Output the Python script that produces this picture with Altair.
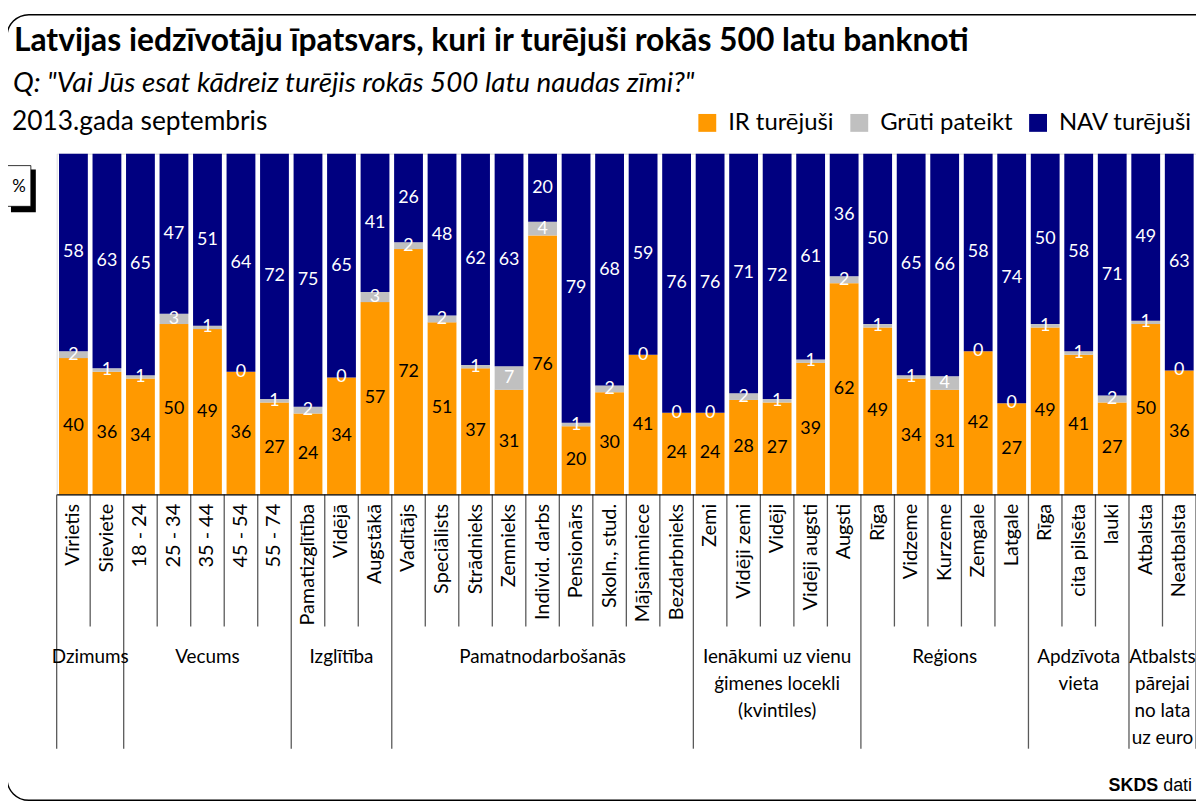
import altair as alt
import pandas as pd

# ---------------- data ----------------
categories = ["Vīrietis", "Sieviete", "18 - 24", "25 - 34", "35 - 44", "45 - 54", "55 - 74",
              "Pamatizglītība", "Vidējā", "Augstākā",
              "Vadītājs", "Speciālists", "Strādnieks", "Zemnieks", "Individ. darbs", "Pensionārs",
              "Skoln., stud.", "Mājsaimniece", "Bezdarbnieks",
              "Zemi", "Vidēji zemi", "Vidēji", "Vidēji augsti", "Augsti",
              "Rīga", "Vidzeme", "Kurzeme", "Zemgale", "Latgale",
              "Rīga", "cita pilsēta", "lauki",
              "Atbalsta", "Neatbalsta"]
ir_values = [40, 36, 34, 50, 49, 36, 27, 24, 34, 57, 72, 51, 37, 31, 76, 20, 30, 41, 24,
             24, 28, 27, 39, 62, 49, 34, 31, 42, 27, 49, 41, 27, 50, 36]
gruti_values = [2, 1, 1, 3, 1, 0, 1, 2, 0, 3, 2, 2, 1, 7, 4, 1, 2, 0, 0,
                0, 2, 1, 1, 2, 1, 1, 4, 0, 0, 1, 1, 2, 1, 0]
nav_values = [58, 63, 65, 47, 51, 64, 72, 75, 65, 41, 26, 48, 62, 63, 20, 79, 68, 59, 76,
              76, 71, 72, 61, 36, 50, 65, 66, 58, 74, 50, 58, 71, 49, 63]
group_names = ["Dzimums", "Vecums", "Izglītība", "Pamatnodarbošanās",
               "Ienākumi uz vienu\nģimenes locekli\n(kvintiles)", "Reģions",
               "Apdzīvota\nvieta", "Atbalsts\npārejai\nno lata\nuz euro"]
group_sizes = [2, 5, 3, 9, 5, 5, 3, 2]
series_names = ["IR turējuši", "Grūti pateikt", "NAV turējuši"]
series_colors = ["#FF9900", "#C0C0C0", "#000080"]
label_colors = ["black", "white", "white"]

title_text = "Latvijas iedzīvotāju īpatsvars, kuri ir turējuši rokās 500 latu banknoti"
subtitle_text = 'Q: "Vai Jūs esat kādreiz turējis rokās 500 latu naudas zīmi?"'
date_text = "2013.gada septembris"
source_bold = "SKDS"
source_text = "dati"

# ---------------- tables ----------------
keys = [f"{i:02d}|{c}" for i, c in enumerate(categories)]
rows = []
for i, k in enumerate(keys):
    for s, vals in enumerate([ir_values, gruti_values, nav_values]):
        rows.append({"key": k, "series": series_names[s], "s_idx": s,
                     "value": vals[i], "tcolor": label_colors[s]})
df = pd.DataFrame(rows)

n = len(categories)
starts = []
pos = 0
for g in group_sizes:
    starts.append(pos)
    pos += g
group_edges = set(starts + [n])
bdf = pd.DataFrame([{"pos": b, "major": b in group_edges} for b in range(0, n + 1)])
gdf = pd.DataFrame({"name": group_names,
                    "center": [s + g / 2 for s, g in zip(starts, group_sizes)]})

FONT = "Lato"
W, H = 1147, 343

band = alt.Scale(domain=keys, type="band", paddingInner=0.14, paddingOuter=0.07)
lin = alt.Scale(domain=[0, n], nice=False, zero=False)

xaxis = alt.Axis(title=None, ticks=False, domain=True, domainColor="black", domainWidth=1.2,
                 labelAngle=-90, labelPadding=9, labelFont=FONT, labelFontSize=20,
                 labelColor="black", labelExpr="split(datum.label, '|')[1]",
                 labelOverlap=False, labelLimit=300, zindex=2)
yaxis = alt.Axis(title=None, values=[0, 0.2, 0.4, 0.6, 0.8, 1.0], grid=False,
                 labelExpr="format(datum.value * 100, 'd')", tickSize=5, tickColor="black",
                 domainColor="black", domainWidth=1.2, labelFont=FONT, labelFontSize=18,
                 labelColor="black", labelPadding=9, zindex=2)

bars = alt.Chart(df).mark_bar().encode(
    x=alt.X("key:N", scale=band, sort=keys, axis=xaxis),
    y=alt.Y("value:Q", stack="normalize", scale=alt.Scale(domain=[0, 1]), axis=yaxis),
    color=alt.Color("series:N", scale=alt.Scale(domain=series_names, range=series_colors),
                    legend=alt.Legend(title=None, orient="none", legendX=643, legendY=-43,
                                      direction="horizontal", symbolType="square",
                                      symbolSize=324, symbolStrokeWidth=0,
                                      labelFont=FONT, labelFontSize=24, labelColor="black",
                                      labelOffset=9, columnPadding=13, labelLimit=400)),
    order=alt.Order("s_idx:Q"),
)

labels = alt.Chart(df).transform_stack(
    stack="value", groupby=["key"], sort=[alt.SortField("s_idx")], as_=["y0", "y1"],
    offset="normalize",
).transform_calculate(mid="(datum.y0 + datum.y1) / 2").mark_text(
    font=FONT, fontSize=18, baseline="middle", align="center"
).encode(
    x=alt.X("key:N", scale=band, sort=keys, axis=None),
    y=alt.Y("mid:Q", scale=alt.Scale(domain=[0, 1]), axis=None),
    text="value:Q",
    color=alt.Color("tcolor:N", scale=None),
)

minor_rules = alt.Chart(bdf).transform_filter("!datum.major").mark_rule(
    color="#5a5a5a", strokeWidth=1.3).encode(
    x=alt.X("pos:Q", scale=lin, axis=None),
    y=alt.value(H), y2=alt.value(476),
)
major_rules = alt.Chart(bdf).transform_filter("datum.major").mark_rule(
    color="#5a5a5a", strokeWidth=1.3).encode(
    x=alt.X("pos:Q", scale=lin, axis=None),
    y=alt.value(H), y2=alt.value(599),
)
group_labels = alt.Chart(gdf).mark_text(
    font=FONT, fontSize=19, baseline="alphabetic", align="center", lineBreak="\n",
    lineHeight=27, color="black").encode(
    x=alt.X("center:Q", scale=lin, axis=None),
    y=alt.value(513),
    text="name:N",
)

one = pd.DataFrame({"t": [0]})
frame = alt.Chart(one).mark_rect(fill="white", fillOpacity=0, stroke="black",
                                 strokeWidth=1.5, cornerRadius=22).encode(
    x=alt.value(-50), x2=alt.value(1190), y=alt.value(-140), y2=alt.value(651))
pct_shadow = alt.Chart(one).mark_rect(fill="black").encode(
    x=alt.value(-46), x2=alt.value(-21), y=alt.value(16), y2=alt.value(59))
pct_box = alt.Chart(one).mark_rect(fill="white", stroke="black", strokeWidth=0.8).encode(
    x=alt.value(-50), x2=alt.value(-26), y=alt.value(12), y2=alt.value(53))
pct_text = alt.Chart(pd.DataFrame({"t": ["%"]})).mark_text(
    font=FONT, fontSize=17, align="center", baseline="middle", color="black").encode(
    x=alt.value(-38), y=alt.value(34), text="t:N")

title = alt.Chart(pd.DataFrame({"t": [title_text]})).mark_text(
    font=FONT, fontSize=32, fontWeight="bold", align="left", baseline="alphabetic",
    color="black").encode(x=alt.value(-43), y=alt.value(-103), text="t:N")
subtitle = alt.Chart(pd.DataFrame({"t": [subtitle_text]})).mark_text(
    font=FONT, fontSize=28, fontStyle="italic", align="left", baseline="alphabetic",
    color="black").encode(x=alt.value(-44), y=alt.value(-62), text="t:N")
date = alt.Chart(pd.DataFrame({"t": [date_text]})).mark_text(
    font=FONT, fontSize=26.5, align="left", baseline="alphabetic",
    color="black").encode(x=alt.value(-45), y=alt.value(-24), text="t:N")
src1 = alt.Chart(pd.DataFrame({"t": [source_bold]})).mark_text(
    font="Liberation Sans", fontSize=18, fontWeight="bold",
    align="left", baseline="alphabetic", color="black").encode(
    x=alt.value(1059), y=alt.value(642), text="t:N")
src2 = alt.Chart(pd.DataFrame({"t": [source_text]})).mark_text(
    font="Liberation Sans", fontSize=18,
    align="right", baseline="alphabetic", color="black").encode(
    x=alt.value(1143), y=alt.value(642), text="t:N")

chart = alt.layer(
    frame, pct_shadow, pct_box, pct_text, title, subtitle, date, src1, src2,
    bars, labels, minor_rules, major_rules, group_labels,
).resolve_scale(x="independent").properties(
    width=W, height=H,
    autosize=alt.AutoSizeParams(type="none"),
    padding={"left": 49, "top": 144, "right": 0, "bottom": 308},
).configure_view(stroke=None).configure(background="white")

chart.save("out.html", embed_options={"renderer": "svg", "actions": False})
